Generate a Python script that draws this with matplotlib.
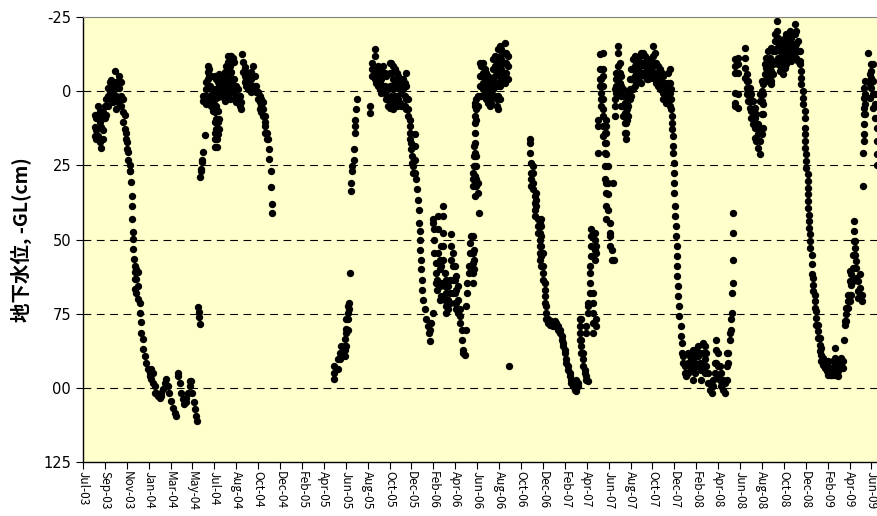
import matplotlib
matplotlib.use("Agg")
import matplotlib.pyplot as plt

plt.rcParams['font.family'] = ['Noto Sans CJK JP', 'DejaVu Sans']

# tick labels (one every 60 days from the axis start)
x_labels = ['Jul-03', 'Sep-03', 'Nov-03', 'Jan-04', 'Mar-04', 'May-04', 'Jul-04',
            'Aug-04', 'Oct-04', 'Dec-04', 'Feb-05', 'Apr-05', 'Jun-05', 'Aug-05',
            'Oct-05', 'Dec-05', 'Feb-06', 'Apr-06', 'Jun-06', 'Aug-06', 'Oct-06',
            'Dec-06', 'Feb-07', 'Apr-07', 'Jun-07', 'Aug-07', 'Oct-07', 'Dec-07',
            'Feb-08', 'Apr-08', 'Jun-08', 'Aug-08', 'Oct-08', 'Dec-08', 'Feb-09',
            'Apr-09', 'Jun-09']
y_ticks = [-25, 0, 25, 50, 75, 100, 125]
y_labels = ['-25', '0', '25', '50', '75', '00', '125']

# water level (cm below GL), days counted from the first tick
s1_day = [32, 36, 41, 46, 50, 55, 59, 64, 68, 73, 78, 82, 87, 91, 96, 100, 105, 110,
          114, 117, 121, 124, 128, 130, 132, 133, 134, 135, 136, 137, 138, 139, 142,
          146, 151, 155, 160, 164, 169, 173, 178, 183, 187, 192, 196, 201, 205, 210,
          215, 219, 224, 228, 233, 237, 242, 247, 251, 256, 260, 265, 269, 274, 278,
          283, 288, 292, 297, 299, 303, 307, 310, 313]
s1_val = [[8, 12, 15], [9, 13, 16], [5, 8, 15], [6.5, 10.5, 17], [8, 12, 19], [7, 13, 16],
          [5, 9], [2.6, 5, 8], [-1, 1.5, 5], [-3, 0.3, 2.6], [-4, -1.4, 2], [-2, 0.3, 3.7],
          [-7, -1, 2.6], [-3, 1.5, 6], [-1, 3.7], [-5.3, -1, 2.6], [-3, 1.5, 5],
          [2.6, 7, 10.5], [8, 12.7], [14, 16], [17, 19.5], [20.6, 23], [25, 27],
          [26.8], [30.7], [35.2], [38.6], [43.1], [47.4], [49.9], [53.3], [56.6],
          [58.9, 61, 63.4, 66.8], [60, 63.4, 68], [61, 65.7, 70], [71.3, 74.7], [78, 81.4],
          [83.7, 87], [89.3], [91.6], [93.8], [95, 96], [93.8, 97.2], [95, 98.3],
          [99.4, 101.7], [101.7], [102.8], [103.4], [102.8, 101.7], [100.6], [98.3],
          [97.2], [99.4], [101.7], [104.5], [106.8], [108.4], [109.6], [95, 96], [98.3],
          [101.7], [104], [105.6], [105, 103.4], [101.7], [99.4, 97.7], [97.7], [101.7],
          [105], [107.3], [109.6], [111.3]]

s2_day = [315, 317, 319, 321, 323, 325, 329, 330, 333, 334, 338, 342, 345, 349, 352, 356,
          361, 365, 367, 370, 374, 379, 383, 388, 393, 397, 402, 406, 411, 415, 420, 424,
          429, 434, 436, 438, 443, 447, 452, 456, 461, 466, 470, 475, 479, 484, 488, 493,
          498, 500, 504, 507, 511, 514, 517]
s2_val = [[72.8], [74.5], [76], [78.6, 29], [27, 26.2], [24, 23], [20.6], [3.2, 1.5],
          [1.5, 2.6], [14.8], [-3, -0.8, 1.5, 4.3], [-8.7, -6.4, -4.2], [-7.5, -5.3, -1.9],
          [-5.3, -1.9, 1.5, 3.7], [-5.3, -0.8, 2.6, 4.8], [0.3, 3.7, 6.5],
          [-5.3, -0.8, 2.6, 7.1, 10.5, 13.9, 16.1, 18.9], [-4.2, 0.3, 4.8, 9.3, 12.7, 16.1],
          [16.1, 18.9], [-3, 2, 6.5, 10.5, 14.4], [-5.9, -1.9, 9.3, 12.7], [-5.3, -1.9, 0.3],
          [-4.2, -0.8, 2], [-6.4, -3, 0.3, 3.2], [-8.7, -4.2, -0.8, 2.6],
          [-12, -9.8, -6.4, -1.9, 1.5], [-12, -8.7, -5.3, -0.8, 2.6], [-12, -6.4, -3, 0.3],
          [-11.4, -4.2, -1.9], [-9.8, -4.2, 0.3, 2.6], [-1.9, 1.5, 3.7], [-0.8, 2.6],
          [1.5, 4.8], [3.7, 6], [-12.6], [-9.8, -6.4], [-8.1, -5.3, -3], [-6.4, -4.2, -1.9],
          [-5.3, -3, -0.8], [-5.3, -3, -0.8], [-6.4, -4.2, -0.8, 0.3], [-8.7, -5.3, -1.9],
          [-5.3, -1.9], [-1.9, 0.3], [0.3, 2.6], [1.5, 3.7, 6], [2.6, 4.8, 7.1],
          [3.7, 6, 8.2], [8.2, 10.5], [11.6, 13.9], [13.9, 16.1], [16.1], [19.5, 22.9],
          [26.8, 32.4], [38.1, 40.9]]

s3_day = [689, 698, 703, 707, 717, 721, 726, 729, 732, 733, 738, 742, 745, 749, 751, 787,
          793, 799, 804, 808, 813, 817, 822, 827, 831, 836, 840, 845, 849, 854, 859, 863,
          868, 872, 877, 881, 886, 890, 895, 897, 900, 902, 904, 909, 911, 915, 918, 921,
          922, 924, 927, 930, 932, 936, 941, 945, 948, 952, 954, 959, 963, 966, 970, 973,
          977, 982, 986, 991, 995, 1000, 1005, 1009, 1014, 1018, 1023, 1027, 1032, 1037,
          1041, 1046, 1048, 1052, 1058, 1061, 1064, 1069, 1070, 1073, 1078, 1082, 1084]
s3_val = [[92.7, 94.9, 97.2], [90.4, 93.8], [88.2, 90.4], [85.9, 89.3],
          [83.7, 85.9, 89.3, 87.2], [76.9, 80.3, 81.5, 86], [72.4, 74.7, 77, 80.4],
          [73.6, 71.4], [61.3], [33.7, 30.9], [26.9, 25.2], [23, 19.6], [14, 11.7, 9.5],
          [6.1], [2.7], [5, 7.2], [-5.2, -7.4, -9.7], [-14.2, -11.9, -6.3, -4.1],
          [-7.4, -5.2, -2.9], [-8.6, -5.2, -1.8], [-6.3, -2.9, -0.7], [-7.4, -4.1, 0.5],
          [-8.6, -5.2, -1.8], [-6.3, -1.8, 0.5], [-5.2, -0.7, 2.7], [-0.7, 2.7, 5],
          [-9.7, -6.3, -1.8, 2.7, 5.5], [-9.7, -6.3, -1.8, 1.6],
          [-8.6, -4.1, -0.7, 3.8, 6.1], [-7.4, -2.9, 1.6, 5], [-6.3, -1.8, 1.6, 5],
          [-5.2, -1.8, 2.7], [-4.1, -0.7, 3.8], [-2.9, 0.5, 5], [-4.1, -0.7, 5],
          [-2.9, 1.6, 5], [-6.3, -1.8, 2.7, 6.1], [2.7, 6.1, 8.3], [9.5, 11.7], [14, 16.2],
          [17.3, 19.6], [21.8, 24.1], [25.2, 27.5], [14.5, 18.5, 23, 27.5], [29.7], [33.1],
          [36.5], [39.9, 44.4], [47.2, 50], [53.4], [56.8, 60.1], [63.5, 66.9], [70.3],
          [73.6], [77], [79.3], [81.5], [84.3, 80.4], [78.2], [74.8, 43.2, 44.4],
          [46.6, 50, 54.5], [57.9, 61.3, 64.6], [63.5, 66.9], [42.1, 46.6, 54.5],
          [56.8, 60.1, 65.8, 70.3], [52.3, 59, 64.6, 69.1], [38.7, 42.1, 47.7, 52.3, 56.8],
          [61.3, 65.8, 70.3], [63.5, 68, 72.5, 74.8], [65.8, 70.3, 73.6], [63.5, 68, 71.4],
          [48.2, 52.3, 56.8], [54.5, 59, 63.5, 68], [59, 63.5, 68, 71.4],
          [62.4, 66.9, 71.4, 73.6], [65.8, 70.3, 74.8], [73.6, 75.9, 78.2], [80.4, 83.8],
          [87.2, 88.3], [88.9], [80.4, 72.5], [68, 64.6], [61.3, 59], [54.5, 51.1],
          [48.9], [32, 29.7, 27.5, 48.9, 54.5, 57.9, 61.3, 64.6],
          [25.2, 21.8, 18.5, 53.4, 56.8, 60.1],
          [3.8, 5, 8.3, 10.6, 14, 17.3, 20.7, 25.2, 28.6, 32, 35.4],
          [2.7, 6.1, 9.5, 21.8, 25.2, 29.7, 32], [1.6, 5, 30.9, 34.2], [41]]

s4_day = [1087, 1091, 1096, 1101, 1105, 1110, 1114, 1119, 1123, 1128, 1133, 1137, 1142,
          1146, 1151, 1155, 1160, 1165, 1167, 1224, 1228, 1233, 1238, 1242, 1247, 1251,
          1256, 1260, 1265, 1269, 1274, 1279, 1283, 1288, 1292, 1297, 1301, 1306, 1311,
          1315, 1320, 1324, 1329, 1333, 1338, 1343, 1347, 1352, 1356, 1361, 1365, 1370,
          1374, 1379, 1384, 1388, 1393, 1397, 1402, 1406, 1411, 1416, 1420]
s4_val = [[-9.7, -5.2, -1.8, 1.6], [-8.6, -5.2, -1.8, 1.6], [-9.7, -6.3, -2.9, -0.7],
          [-7.4, -4.1, -1.8], [-6.3, -2.9, 0.5, 2.7], [-5.2, -1.8, 1.6, 3.8],
          [-4.1, -0.7, 2.7, 5], [-2.9, 0.5, 3.8], [-10.8, -7.4, -4.1, -0.7],
          [-11.9, -8.6, -5.2, -1.8, 1.6], [-9.7, -6.3, -1.8, 2.7, 5],
          [-14.2, -10.8, -7.4, -2.9, 1.6, 6.1], [-15.3, -11.9, -8.6, -5.2, -1.8, 2.7],
          [-14.2, -10.8, -7.4, -4.1], [-13.1, -9.7, -6.3], [-16.4, -13.1, -9.7, -6.3, -2.9],
          [-13.1, -9.7, -6.3, -4.1], [-11.9, -8.6, -4.1], [92.8], [16.2, 17.3, 20.7],
          [24.1, 27.5, 29.7, 32], [25.2, 27.5, 30.9, 33.1], [35.4, 37.6, 39.9, 42.1],
          [34.2, 36.5, 38.7], [43.2, 45.5, 47.7], [44.4, 47.7, 50, 52.3, 54.5, 56.8],
          [43.2, 45.5, 48.9, 52.3, 55.6, 59], [54.5, 59, 61.3, 63.5],
          [64.6, 66.9, 69.1, 71.4], [72.5, 74.8, 77], [77, 78.2], [78.2, 78.7],
          [77.6, 78.7], [78.7, 79.3], [77.6, 78.7], [78.2, 79.3], [79.3, 80.4],
          [80.4, 81.5], [82.7, 83.8], [84.9, 86], [87.2, 88.3], [90.5, 91.7], [92.8, 93.9],
          [95, 96.2], [97.3, 98.4], [98.4, 99.5], [100.1, 100.7], [101.2, 99.5, 97.3],
          [98.4, 99.5], [77, 79.3, 81.5, 83.8], [77, 83.8, 86, 88.3], [88.3, 90.5, 92.8],
          [93.9, 95], [96.2, 97.3, 81.5, 79.3], [97.9, 74.8, 72.5, 71.4],
          [68, 64.6, 61.3, 59], [55.6, 52.3, 48.9, 46.6], [81.5, 78.2, 74.8, 71.4, 68],
          [47.7, 50, 53.4, 56.8], [52.3, 54.5, 77, 79.3], [9.5, 11.7, 20.7],
          [-4.1, -1.8, -7.4, -12.5], [-4.1, -1.8, 0.5, 2.7, 5]]

s5_day = [1425, 1429, 1434, 1439, 1443, 1448, 1452, 1454, 1457, 1461, 1466, 1470, 1475,
          1480, 1484, 1489, 1491, 1493, 1498, 1502, 1507, 1512, 1516, 1521, 1525, 1530,
          1534, 1539, 1544, 1548, 1553, 1557, 1562, 1566, 1571, 1575, 1580, 1585, 1589,
          1594, 1598, 1603, 1607, 1612, 1615, 1617, 1618, 1620, 1622, 1624, 1626, 1628,
          1630, 1633, 1637, 1640, 1644, 1649, 1653, 1658, 1662, 1667, 1671, 1676, 1680,
          1685, 1690, 1694, 1699, 1703, 1708, 1712, 1717, 1722, 1726, 1731, 1735, 1740,
          1744, 1749, 1754, 1758, 1763, 1767, 1772, 1776, 1779, 1781, 1785]
s5_val = [[-13, -7.4, -5.2, -1.8, 2.7, 6.1, 8.3, 11.7, 15.1], [14, 17.3, 20.7, 25.2, 29.7],
          [9.5, 11.7, 14, 17.3, 21.3, 30.9, 34.2, 38.7, 43.2], [25.2, 30.9, 34.8, 39.9],
          [44.4, 47.7, 48.9, 52.3], [53.4, 56.8], [30.9], [56.8], [-0.7, 2.7, 5, 8.3],
          [-6.3, -4.1, -1.8, 0.5], [-15.3, -13.1, -8.6, -4.1], [-9.7, -6.3, -2.9, -0.7],
          [-5.2, -1.8, 1.6, 5], [-0.7, 1.6, 5, 8.3], [3.8, 7.2, 10.6, 14],
          [7.2, 10.6, 14, 16.2], [3.8, 6.1, 9.5], [0.5, 2.7, 5, 8.3], [-4.1, -0.7, 2.7],
          [-7.4, -4.1, -0.7, 1.6], [-10.8, -7.4, -4.1, -0.7], [-11.9, -8.6, -5.2, -1.8],
          [-9.7, -6.3, -2.9], [-10.8, -7.4, -4.1], [-11.9, -8.6, -5.2],
          [-13.1, -9.7, -6.3, -2.9], [-13.1, -9.7, -6.3], [-11.9, -8.6, -5.2],
          [-10.8, -7.4, -4.1], [-9.7, -6.3, -4.1], [-9.7, -7.4, -5.2], [-10.8, -7.4, -4.6],
          [-15.3, -11.9, -8.6, -5.2], [-13.1, -9.7, -6.3, -4.1], [-9.7, -6.3, -2.9],
          [-8.6, -5.2, -1.8], [-7.4, -4.1, -0.7], [-6.3, -2.9, -0.7],
          [-5.2, -1.8, 0.5, 2.7], [-2.9, 0.5, 2.7], [-1.8, 1.6, 3.8],
          [-6.3, -2.9, 0.5, 3.8], [-7.4, -2.9, 0.5, 5], [-0.7, 2.7, 6.1], [8.3, 10.6, 12.8],
          [15.1, 18.5, 20.7], [24.1, 27.5], [30.9, 34.2], [38.7, 42.1], [45.5, 48.9],
          [52.3, 55.6], [59, 62.4], [65.8, 69.1], [72.5, 75.9], [79.3, 82.7], [85, 88.3],
          [89.4, 91.7], [92.8, 95], [95, 96.2], [88.3, 91.7, 95], [89.4, 92.8],
          [90.5, 93.9], [87.2, 90.5, 93.9, 97.3], [88.3, 91.7, 95], [87.2, 89.4, 92.8],
          [86, 89.4, 92.8], [88.3, 91.7], [93.9, 97.3], [84.9, 88.3, 92.8], [86, 90.5, 95],
          [88.3, 92.8], [95, 98.4], [98.4, 100.7], [99.5, 101.8], [97.3, 99.5], [91.7, 95],
          [83.8, 87.2, 91.7], [88.3, 92.8, 96.2], [92.8, 97.3], [95, 99.5], [97.3, 100.7],
          [98.4, 101.8], [88.3, 92.8, 97.3], [88.3, 91.7], [81.5, 83.8], [80.4, 77],
          [74.8, 68], [64.6, 56.8, 47.7, 41], [5, 0.5, 3.8, -8.6, -10.8, -6.3]]

s6_day = [1795, 1813, 1818, 1822, 1827, 1831, 1836, 1840, 1845, 1850, 1854, 1859, 1863,
          1868, 1872, 1877, 1881, 1886, 1891, 1895, 1900, 1904, 1909, 1913, 1918, 1923,
          1927, 1932, 1936, 1941, 1945, 1950, 1954, 1959, 1964, 1968, 1973, 1977, 1979,
          1982, 1985, 1986, 1988, 1991, 1996, 2000, 2005, 2009, 2014, 2018, 2023, 2028,
          2032, 2037, 2041, 2046, 2050, 2055, 2060, 2064, 2069, 2073, 2078, 2082, 2085,
          2087, 2091, 2096, 2101, 2105, 2110, 2112, 2116, 2119, 2123, 2128, 2133, 2137,
          2140, 2143, 2151, 2155, 2160, 2165, 2169, 2174, 2176]
s6_val = [[-11.4, -9.1, -6.3, 1, 5.5], [-14.8, -11.4, -8, -4.6], [-5.7, -3.5, -1.2, 1],
          [-3.5, -0.1, 3.3], [-1.2, 2.1, 5.5], [1, 3.3, 6.6, 8.9], [3.3, 6.6, 11.1],
          [5.5, 8.9, 12.3, 15.7], [7.8, 12.3, 16.8], [11.1, 14.5, 19],
          [1, 3.3, 12.3, 16.8, 21.3], [-3.5, -0.1, 3.3, 7.8, 14.5], [-2.4, 1, 4.4, 7.8, 12.3],
          [-9.1, -5.7, -3.5], [-11.4, -8, -5.7], [-13.6, -9.1, -5.7, -3.5],
          [-11.4, -8, -4.6], [-14.8, -10.2, -6.9, -3.5, -2.4], [-13.6, -9.1, -5.7],
          [-19.3, -17, -13.6, -10.2], [-23.8, -20.4, -17, -14.8], [-18.1, -14.8, -11.4, -9.1],
          [-17, -13.6, -10.2, -6.9], [-14.8, -11.4, -8], [-15.9, -12.5, -9.1, -5.7],
          [-18.1, -14.8, -11.4, -8], [-19.3, -15.9, -12.5, -9.1], [-18.1, -14.8, -11.4],
          [-20.4, -17, -13.6], [-18.1, -14.8, -10.2], [-15.9, -12.5], [-22.6, -19.3, -14.8],
          [-20.4, -15.9, -13.6, -11.4], [-17, -13.6, -10.2], [-13.6, -10.2, -9.1],
          [-6.9, -4.6, -2.4], [-0.1, 2.1, 4.4], [6.6, 8.9, 12.3], [14.5, 16.8, 19],
          [21.3, 23.5, 25.8], [28, 30.3, 32.5], [34.8, 37, 39.3], [41.6, 43.8, 46.1],
          [48.3, 50.6, 52.8], [55.1, 58.4, 61.8], [63, 65.2, 67.5], [68.6, 70.8, 73.1],
          [74.2, 76.5, 78.7], [78.7, 81, 83.2], [83.2, 85.5, 87.7], [86.6, 88.9, 91.1],
          [90, 92.2], [91.1, 93.4], [92.2, 94.5], [91.1, 93.4, 95.6], [94.5, 95.6],
          [93.4, 95.6], [91.1, 93.4, 95.6], [86.6, 90, 93.4, 95.6], [91.1, 93.4, 94.5],
          [92.2, 94.5, 96.2], [91.1, 93.4], [90, 92.2], [91.1, 93.4], [83.8], [77.6, 78.7],
          [73.1, 75.3, 77.6], [68.6, 70.8, 73.1], [60.7, 64.1, 68.6, 70.8],
          [61.8, 65.2, 68.6], [55.1, 59.6, 64.1], [43.8, 47.2, 50.6], [50.6, 52.8, 55.1],
          [57.3, 59.6, 63], [64.1, 67.5, 69.7], [61.8, 66.3, 69.7], [68.6, 70.8], [32, 20.7],
          [-1.2, 2.1, 5.5, 7.8, 11.1, 14.5, 16.8], [-3.5, 1, 4.4, 7.8], [-13.1],
          [-5.7, -2.4, 2.1], [-9.1, -6.9, -4.6, -1.2], [-9.1, -3.5, 1, 5.5], [1, 4.4, 8.9],
          [8.9, 12.3, 16.8], [21.3, 24.7]]

xs, ys = [], []
for days, vals in [(s1_day, s1_val), (s2_day, s2_val), (s3_day, s3_val),
                   (s4_day, s4_val), (s5_day, s5_val), (s6_day, s6_val)]:
    for d, vv in zip(days, vals):
        for v in vv:
            xs.append(d)
            ys.append(v)

fig = plt.figure(figsize=(8.78, 5.16), dpi=100)
ax = fig.add_axes([0.0945, 0.1052, 0.9055, 0.8613])
ax.set_facecolor('#FFFFCC')

ax.plot(xs, ys, 'o', color='black', markersize=5.3, markeredgewidth=0)

for g in [0, 25, 50, 75, 100]:
    ax.axhline(g, color='black', linewidth=0.8, dashes=(7, 5), zorder=0.5)

ax.set_xlim(0, 2178)
ax.set_ylim(125, -25)
ax.set_yticks(y_ticks)
ax.set_yticklabels(y_labels, fontsize=10.5, family=['Liberation Sans Narrow', 'DejaVu Sans'])
ax.set_xticks([60 * i for i in range(len(x_labels))])
ax.set_xticklabels(x_labels, rotation=-90, fontsize=8.5,
                   family=['Noto Sans CJK JP', 'DejaVu Sans'])
ax.tick_params(axis='both', direction='out', length=5, width=0.8, color='black')
ax.tick_params(axis='x', pad=2)
ax.spines['right'].set_visible(False)
for s in ['left', 'bottom']:
    ax.spines[s].set_linewidth(1.0)
ax.spines['top'].set_color('#808080')

ax.set_ylabel('地下水位, -GL(cm)', fontsize=14, fontweight='bold', labelpad=8)

fig.savefig('out.png', dpi=100)
